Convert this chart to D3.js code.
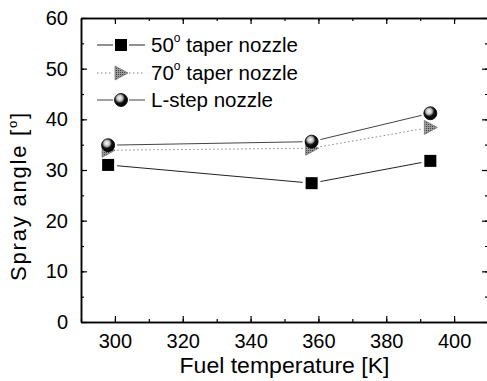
<!DOCTYPE html>
<html><head><meta charset="utf-8">
<script src="https://cdn.jsdelivr.net/npm/d3@7"></script>
<style>
html,body{margin:0;padding:0;background:#fff;}
svg text{font-family:"Liberation Sans",Arial,sans-serif;fill:#000;}
</style></head>
<body><svg id="c" width="487" height="381"></svg>
<script>
const temperatures = [298, 358, 393];
const taper50 = [31.0, 27.4, 31.8];
const taper70 = [33.9, 34.3, 38.4];
const lstep = [34.9, 35.6, 41.2];
const seriesNames = ["50", "70", "L-step nozzle"];
const xTicks = [300, 320, 340, 360, 380, 400];
const yTicks = [0, 10, 20, 30, 40, 50, 60];

const svg = d3.select("#c");
const L = 81, R = 488, T = 18, B = 322;
const x = d3.scaleLinear().domain([290, 410]).range([L, R]);
const y = d3.scaleLinear().domain([0, 60]).range([B, T]);

const defs = svg.append("defs");
const g = defs.append("radialGradient").attr("id", "ball").attr("cx", "0.4").attr("cy", "0.35").attr("r", "0.65");
g.append("stop").attr("offset", "0").attr("stop-color", "#fff");
g.append("stop").attr("offset", "0.35").attr("stop-color", "#bbb");
g.append("stop").attr("offset", "0.6").attr("stop-color", "#111");
g.append("stop").attr("offset", "1").attr("stop-color", "#000");
const pat = defs.append("pattern").attr("id", "hatch").attr("width", 2).attr("height", 2).attr("patternUnits", "userSpaceOnUse");
pat.append("rect").attr("width", 2).attr("height", 2).attr("fill", "#999");
pat.append("rect").attr("width", 1).attr("height", 1).attr("fill", "#444");

// axes
const ax = svg.append("g");
function drawAxis(axisGen, transform, labels) {
  const a = ax.append("g").attr("transform", transform).call(axisGen);
  a.select(".domain").attr("stroke", "#000").attr("stroke-width", 1.5);
  a.selectAll(".tick line").attr("stroke", "#000").attr("stroke-width", 1.2);
  if (!labels) a.selectAll(".tick text").remove();
  else a.selectAll(".tick text").attr("font-size", 20).attr("font-family", "Liberation Sans, Arial, sans-serif");
  return a;
}
const minorX = d3.range(290, 411, 10), minorY = d3.range(0, 61, 5);
// minor ticks
drawAxis(d3.axisBottom(x).tickValues(minorX).tickSize(-3).tickSizeOuter(0).tickFormat(""), `translate(0,${B})`, false);
drawAxis(d3.axisTop(x).tickValues(minorX).tickSize(-3).tickSizeOuter(0).tickFormat(""), `translate(0,${T})`, false);
drawAxis(d3.axisLeft(y).tickValues(minorY).tickSize(-3).tickSizeOuter(0).tickFormat(""), `translate(${L},0)`, false);
drawAxis(d3.axisRight(y).tickValues(minorY).tickSize(-3).tickSizeOuter(0).tickFormat(""), `translate(${R},0)`, false);
// major ticks
const xb = drawAxis(d3.axisBottom(x).tickValues(xTicks).tickSizeInner(-6).tickSizeOuter(0).tickPadding(12), `translate(0,${B})`, true);
xb.selectAll(".tick text").attr("dy", "0.71em");
drawAxis(d3.axisTop(x).tickValues(xTicks).tickSizeInner(-6).tickSizeOuter(0), `translate(0,${T})`, false);
const yl = drawAxis(d3.axisLeft(y).tickValues(yTicks).tickSizeInner(-6).tickSizeOuter(0).tickPadding(13), `translate(${L},0)`, true);
drawAxis(d3.axisRight(y).tickValues(yTicks).tickSizeInner(-6).tickSizeOuter(0), `translate(${R},0)`, false);

// titles
svg.append("text").attr("x", (L + R) / 2).attr("y", 373).attr("text-anchor", "middle")
  .attr("font-size", 22).attr("textLength", 210).attr("lengthAdjust", "spacingAndGlyphs")
  .text("Fuel temperature [K]");
const yt = svg.append("text").attr("transform", "translate(26,196) rotate(-90)").attr("text-anchor", "middle")
  .attr("font-size", 22).attr("letter-spacing", 1.8);
yt.append("tspan").text("Spray angle [");
yt.append("tspan").attr("font-size", 13).attr("dy", -9).text("o");
yt.append("tspan").attr("dy", 9).text("]");

// series
const series = [
  {vals: taper70, stroke: "#888", dash: "1.5,2.5", width: 1, marker: "tri"},
  {vals: lstep, stroke: "#444", dash: null, width: 1, marker: "ball"},
  {vals: taper50, stroke: "#222", dash: null, width: 1, marker: "sq"}
];
function marker(sel, type, cx, cy) {
  if (type === "sq") sel.append("rect").attr("x", cx - 6).attr("y", cy - 6).attr("width", 12).attr("height", 12).attr("fill", "#000");
  else if (type === "tri") sel.append("path").attr("d", `M${cx - 6},${cy - 7}L${cx + 7},${cy}L${cx - 6},${cy + 7}Z`).attr("fill", "url(#hatch)").attr("stroke", "#777").attr("stroke-width", 0.8);
  else sel.append("circle").attr("cx", cx).attr("cy", cy).attr("r", 6.5).attr("fill", "url(#ball)").attr("stroke", "#000").attr("stroke-width", 0.8);
}
const gap = 9;
series.forEach(s => {
  const gs = svg.append("g");
  const pts = s.vals.map((v, i) => [x(temperatures[i]), y(v)]);
  for (let i = 0; i < pts.length - 1; i++) {
    const [x1, y1] = pts[i], [x2, y2] = pts[i + 1];
    const d = Math.hypot(x2 - x1, y2 - y1), ux = (x2 - x1) / d, uy = (y2 - y1) / d;
    gs.append("line").attr("x1", x1 + ux * gap).attr("y1", y1 + uy * gap).attr("x2", x2 - ux * gap).attr("y2", y2 - uy * gap)
      .attr("stroke", s.stroke).attr("stroke-width", s.width).attr("stroke-dasharray", s.dash);
  }
});
[series[2], series[0], series[1]].forEach(s => {
  const gs = svg.append("g");
  s.vals.forEach((v, i) => marker(gs, s.marker, x(temperatures[i]), y(v)));
});

// legend
const legRows = [
  {label: seriesNames[0], sup: true, s: series[2], y: 45},
  {label: seriesNames[1], sup: true, s: series[0], y: 73},
  {label: seriesNames[2], sup: false, s: series[1], y: 100}
];
legRows.forEach(r => {
  const lg = svg.append("g");
  lg.append("line").attr("x1", 97).attr("x2", 113).attr("y1", r.y).attr("y2", r.y).attr("stroke", r.s.stroke).attr("stroke-dasharray", r.s.dash);
  lg.append("line").attr("x1", 129).attr("x2", 145).attr("y1", r.y).attr("y2", r.y).attr("stroke", r.s.stroke).attr("stroke-dasharray", r.s.dash);
  marker(lg, r.s.marker, 121, r.y);
  const t = lg.append("text").attr("x", 151).attr("y", r.y + 7).attr("font-size", 20.5);
  if (r.sup) {
    t.append("tspan").text(r.label);
    t.append("tspan").attr("font-size", 12).attr("dy", -10).text("o");
    t.append("tspan").attr("dy", 10).text(" taper nozzle");
  } else t.text(r.label);
});
</script></body></html>
